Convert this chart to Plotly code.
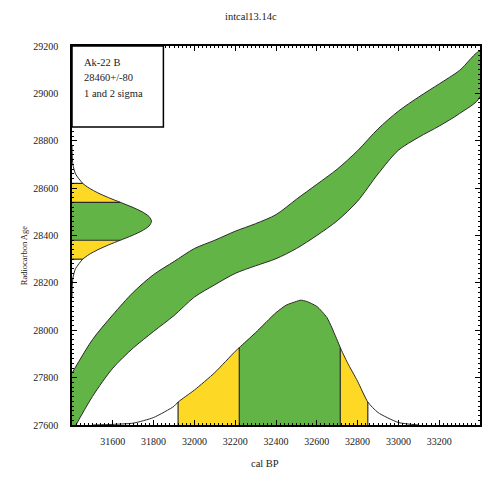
import numpy as np
import plotly.graph_objects as go

# ---- data ----
title_text = "intcal13.14c"
sample_name = "Ak-22 B"
sample_age = "28460+/-80"
sample_note = "1 and 2 sigma"

# calibration curve band (radiocarbon age, upper/lower edges) vs cal BP
band_x = [31400, 31500, 31600, 31700, 31800, 31900, 32000, 32100, 32200, 32300, 32400,
          32500, 32600, 32700, 32800, 32900, 33000, 33100, 33200, 33300, 33400]
band_upper = [27819, 27960, 28065, 28160, 28235, 28290, 28345, 28380, 28418, 28450, 28488,
              28553, 28616, 28680, 28758, 28850, 28925, 28985, 29040, 29097, 29178]
band_lower = [27570, 27720, 27840, 27925, 27995, 28062, 28140, 28192, 28240, 28272, 28302,
              28345, 28400, 28462, 28545, 28660, 28760, 28815, 28862, 28915, 28985]

# calibrated distribution (relative probability) vs cal BP
cal_x = [31500, 31600, 31700, 31800, 31900, 31920, 32000, 32100, 32200, 32220, 32300,
         32400, 32450, 32500, 32520, 32550, 32600, 32650, 32700, 32715, 32750, 32800,
         32850, 32900, 33000, 33100]
cal_p = [0.0, 0.005, 0.015, 0.06, 0.15, 0.184, 0.28, 0.42, 0.59, 0.62, 0.74,
         0.90, 0.96, 0.99, 1.0, 0.99, 0.95, 0.86, 0.68, 0.62, 0.50, 0.35,
         0.184, 0.10, 0.02, 0.0]
cal_1sigma = [32220, 32715]
cal_2sigma = [31920, 32850]

# radiocarbon measurement distribution (relative probability) vs radiocarbon age
c14_y = [28140, 28180, 28220, 28260, 28300, 28320, 28340, 28360, 28380, 28400, 28420, 28440,
         28460, 28480, 28500, 28520, 28540, 28560, 28580, 28600, 28620, 28660, 28700, 28740, 28780]
c14_p = [0.0003, 0.0022, 0.011, 0.044, 0.135, 0.216, 0.325, 0.458, 0.607, 0.755, 0.882, 0.969,
         1.0, 0.969, 0.882, 0.755, 0.607, 0.458, 0.325, 0.216, 0.135, 0.044, 0.011, 0.0022, 0.0003]
c14_1sigma = [28380, 28540]
c14_2sigma = [28300, 28620]

x_ticks = [31600, 31800, 32000, 32200, 32400, 32600, 32800, 33000, 33200]
y_ticks = [27600, 27800, 28000, 28200, 28400, 28600, 28800, 29000, 29200]

# ---- style ----
X_RANGE = [31400, 33400]
Y_RANGE = [27600, 29200]
GREEN = "#62B446"
YELLOW = "#FDD825"
EDGE = "#2b2b2b"
FONT = "Liberation Serif"
CAL_PEAK = 527     # height of calibrated distribution in y units
C14_PEAK = 390     # width of c14 distribution in x units
SPL = dict(shape="spline", smoothing=0.6)

fig = go.Figure()

# calibration band
fig.add_trace(go.Scatter(
    x=band_x + band_x[::-1], y=band_upper + band_lower[::-1],
    mode="lines", fill="toself", fillcolor=GREEN,
    line=dict(color=EDGE, width=1, shape="spline", smoothing=0.8),
    hoverinfo="skip", showlegend=False))

# bottom calibrated distribution
cx = np.array(cal_x, dtype=float)
cp = np.array(cal_p, dtype=float)
base = Y_RANGE[0]
ch = base + cp * CAL_PEAK


def bottom_region(lo, hi, color):
    m = (cx >= lo) & (cx <= hi)
    fig.add_trace(go.Scatter(x=[lo, hi], y=[base, base], mode="lines",
                             line=dict(width=0), hoverinfo="skip", showlegend=False))
    fig.add_trace(go.Scatter(x=cx[m], y=ch[m], mode="lines", fill="tonexty", fillcolor=color,
                             line=dict(width=0, **SPL), hoverinfo="skip", showlegend=False))


bottom_region(cal_2sigma[0], cal_2sigma[1], YELLOW)
bottom_region(cal_1sigma[0], cal_1sigma[1], GREEN)
fig.add_trace(go.Scatter(x=cx, y=ch, mode="lines", line=dict(color=EDGE, width=1, **SPL),
                         hoverinfo="skip", showlegend=False))
for b in cal_1sigma + cal_2sigma:
    fig.add_trace(go.Scatter(x=[b, b], y=[base, float(np.interp(b, cx, ch))], mode="lines",
                             line=dict(color=EDGE, width=1.2), hoverinfo="skip", showlegend=False))

# left radiocarbon distribution
ly = np.array(c14_y, dtype=float)
lp = np.array(c14_p, dtype=float)
lbase = X_RANGE[0]
lw = lbase + lp * C14_PEAK


def left_region(lo, hi, color):
    m = (ly >= lo) & (ly <= hi)
    fig.add_trace(go.Scatter(x=[lbase, lbase], y=[lo, hi], mode="lines",
                             line=dict(width=0), hoverinfo="skip", showlegend=False))
    fig.add_trace(go.Scatter(x=lw[m], y=ly[m], mode="lines", fill="tonextx", fillcolor=color,
                             line=dict(width=0, **SPL), hoverinfo="skip", showlegend=False))


left_region(c14_2sigma[0], c14_2sigma[1], YELLOW)
left_region(c14_1sigma[0], c14_1sigma[1], GREEN)
fig.add_trace(go.Scatter(x=lw, y=ly, mode="lines", line=dict(color=EDGE, width=1, **SPL),
                         hoverinfo="skip", showlegend=False))
for b in c14_1sigma + c14_2sigma:
    fig.add_trace(go.Scatter(x=[lbase, float(np.interp(b, ly, lw))], y=[b, b], mode="lines",
                             line=dict(color=EDGE, width=1.2), hoverinfo="skip", showlegend=False))

axis_common = dict(
    showgrid=False, zeroline=False, showline=True, linecolor="black", linewidth=1.5,
    mirror="allticks", ticks="inside", ticklen=5, tickcolor="black", tickwidth=1,
    tickfont=dict(family=FONT, size=10, color="#222"),
)
fig.update_xaxes(range=X_RANGE, tickvals=x_ticks, ticktext=[str(v) for v in x_ticks],
                 minor=dict(ticks="inside", dtick=20, ticklen=2, tickcolor="black"),
                 ticklabelstandoff=6, **axis_common)
fig.update_yaxes(range=Y_RANGE, tickvals=y_ticks, ticktext=[str(v) for v in y_ticks],
                 minor=dict(ticks="inside", dtick=20, ticklen=2, tickcolor="black"),
                 ticklabelstandoff=10, **axis_common)

# legend box
fig.add_shape(type="rect", xref="paper", yref="paper", x0=0, x1=0.224, y0=0.786, y1=1,
              line=dict(color="black", width=1.5), fillcolor="white", layer="above")
for i, t in enumerate([sample_name, sample_age, sample_note]):
    fig.add_annotation(text=t, xref="paper", yref="paper", x=(82 - 72) / 410,
                       y=(425 - (62 + i * 15.5)) / 379, xanchor="left", yanchor="middle",
                       showarrow=False, font=dict(family=FONT, size=10.5, color="#222"))

fig.add_annotation(text=title_text, xref="paper", yref="paper", x=(252 - 72) / 410,
                   y=(425 - 17) / 379, showarrow=False, xanchor="center", yanchor="middle",
                   font=dict(family=FONT, size=10.5, color="#222"))
fig.add_annotation(text="cal BP", xref="paper", yref="paper", x=(266 - 72) / 410,
                   y=(425 - 463) / 379, showarrow=False, xanchor="center", yanchor="middle",
                   font=dict(family=FONT, size=10.5, color="#222"))
fig.add_annotation(text="Radiocarbon Age", xref="paper", yref="paper", x=(24 - 72) / 410,
                   y=(425 - 256) / 379, showarrow=False, textangle=-90,
                   xanchor="center", yanchor="middle",
                   font=dict(family=FONT, size=8.5, color="#222"))

# page body has an 8px default margin: shrink figure so the plot area lands where the reference has it
fig.update_layout(width=484, height=469, margin=dict(l=64, r=10, t=38, b=52),
                  paper_bgcolor="white", plot_bgcolor="white", showlegend=False)

fig.write_html("out.html")
